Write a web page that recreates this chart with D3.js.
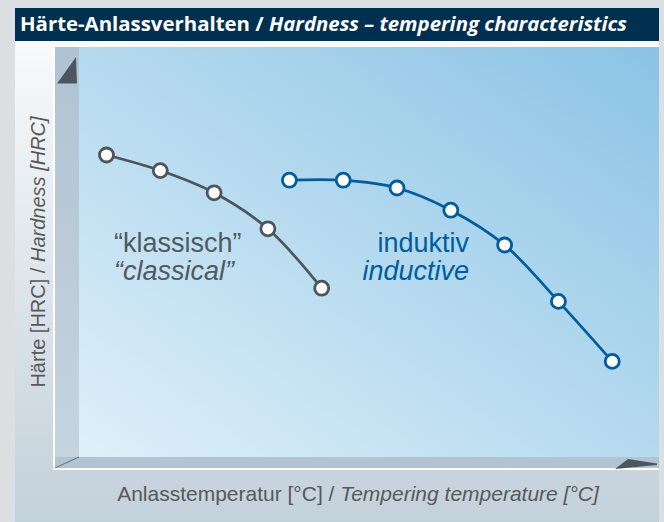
<!DOCTYPE html>
<html>
<head>
<meta charset="utf-8">
<script src="https://cdn.jsdelivr.net/npm/d3@7"></script>
<style>
  body { margin: 0; background: #dcdfe2; }
  svg { display: block; font-family: "Liberation Sans", Arial, sans-serif; }
</style>
</head>
<body>
<svg id="chart"></svg>
<script>
// Data (hardness in HRC, temperature in °C, no ticks shown)
const classicTemps = [100, 200, 300, 400, 500];
const classicHrc = [65, 62.4, 58.7, 52.7, 42.8];
const inductiveTemps = [440, 540, 640, 740, 840, 940, 1040];
const inductiveHrc = [60.8, 60.8, 59.5, 55.8, 50, 40.6, 30.6];

const width = 664;
const height = 522;

const svg = d3.select("#chart").attr("width", width).attr("height", height);

// Gradients
const defs = svg.append("defs");
const panelGrad = defs.append("linearGradient")
  .attr("id", "panelGrad").attr("x1", 0).attr("y1", 0).attr("x2", 0).attr("y2", 1);
panelGrad.append("stop").attr("offset", "0%").attr("stop-color", "#f8fafb");
panelGrad.append("stop").attr("offset", "100%").attr("stop-color", "#c3d1db");

const wallGrad = defs.append("linearGradient")
  .attr("id", "wallGrad").attr("x1", 0).attr("y1", 1).attr("x2", 1).attr("y2", 0);
wallGrad.append("stop").attr("offset", "0%").attr("stop-color", "#dff0f9");
wallGrad.append("stop").attr("offset", "100%").attr("stop-color", "#8bc3e5");

const sideGrad = defs.append("linearGradient")
  .attr("id", "sideGrad").attr("x1", 0).attr("y1", 0).attr("x2", 0).attr("y2", 1);
sideGrad.append("stop").attr("offset", "0%").attr("stop-color", "#b0c3d2");
sideGrad.append("stop").attr("offset", "100%").attr("stop-color", "#c6d4de");

// Outer panel + title bar
svg.append("rect").attr("x", 0).attr("y", 0).attr("width", width).attr("height", height)
  .attr("fill", "#dcdfe2");
svg.append("rect").attr("x", 15).attr("y", 41).attr("width", 644).attr("height", height - 41)
  .attr("fill", "url(#panelGrad)");
svg.append("rect").attr("x", 15).attr("y", 8).attr("width", 644).attr("height", 33)
  .attr("fill", "#00304f");

const title = svg.append("text")
  .attr("x", 20).attr("y", 31)
  .attr("fill", "#fff")
  .attr("font-family", "'Liberation Sans Narrow', 'Open Sans', sans-serif")
  .attr("font-weight", "bold")
  .attr("font-size", 20)
  .attr("textLength", 607)
  .attr("lengthAdjust", "spacingAndGlyphs");
title.append("tspan").text("Härte-Anlassverhalten / ");
title.append("tspan").attr("font-style", "italic").text("Hardness – tempering characteristics");

// 3D box
const box = { left: 54, right: 659, top: 47, bottom: 469, wall: 79, floor: 457 };

svg.append("rect")
  .attr("x", box.wall).attr("y", box.top)
  .attr("width", box.right - box.wall).attr("height", box.floor - box.top)
  .attr("fill", "url(#wallGrad)");
svg.append("rect")
  .attr("x", box.left).attr("y", box.top)
  .attr("width", box.wall - box.left).attr("height", box.bottom - box.top)
  .attr("fill", "url(#sideGrad)");
svg.append("rect")
  .attr("x", box.left).attr("y", box.floor)
  .attr("width", box.right - box.left).attr("height", box.bottom - box.floor)
  .attr("fill", "#b2c4d2");
svg.append("line")
  .attr("x1", box.left + 1).attr("y1", box.bottom - 1)
  .attr("x2", box.wall).attr("y2", box.floor)
  .attr("stroke", "#4b5661").attr("stroke-width", 0.8);
svg.append("path")
  .attr("d", `M${box.left},${box.top}V${box.bottom}H${box.right}`)
  .attr("fill", "none").attr("stroke", "#fff").attr("stroke-width", 2);

// Axis arrows
svg.append("path")
  .attr("d", "M76,57L57,83.5L77,83.5Z")
  .attr("fill", "#4b5661");
svg.append("path")
  .attr("d", "M628,459L657,463.5L657,465L615,469Z")
  .attr("fill", "#4b5661");

// Axis titles
const yTitle = svg.append("text")
  .attr("transform", "translate(45,252) rotate(-90)")
  .attr("text-anchor", "middle")
  .attr("font-size", 20)
  .attr("fill", "#58595b");
yTitle.append("tspan").text("Härte [HRC] / ");
yTitle.append("tspan").attr("font-style", "italic").text("Hardness [HRC]");

const xTitle = svg.append("text")
  .attr("x", 358).attr("y", 501)
  .attr("text-anchor", "middle")
  .attr("font-size", 21)
  .attr("fill", "#58595b");
xTitle.append("tspan").text("Anlasstemperatur [°C] / ");
xTitle.append("tspan").attr("font-style", "italic").text("Tempering temperature [°C]");

// Scales
const xScale = d3.scaleLinear().domain([0, 1000]).range([52.7, 590.7]);
const yScale = d3.scaleLinear().domain([20, 70]).range([425, 125]);

const series = [
  { name: "classic", temps: classicTemps, hrc: classicHrc, color: "#4d555c" },
  { name: "inductive", temps: inductiveTemps, hrc: inductiveHrc, color: "#005d9d" }
];

const line = d3.line()
  .x(d => xScale(d.t))
  .y(d => yScale(d.h))
  .curve(d3.curveCatmullRom.alpha(0.5));

series.forEach(s => {
  const pts = s.temps.map((t, i) => ({ t, h: s.hrc[i] }));
  const g = svg.append("g").attr("class", s.name);
  g.append("path")
    .datum(pts)
    .attr("d", line)
    .attr("fill", "none")
    .attr("stroke", s.color)
    .attr("stroke-width", 2.7);
  g.selectAll("circle")
    .data(pts)
    .join("circle")
    .attr("cx", d => xScale(d.t))
    .attr("cy", d => yScale(d.h))
    .attr("r", 7)
    .attr("fill", "#fff")
    .attr("stroke", s.color)
    .attr("stroke-width", 2.8);
});

// Series labels
const classicLabel = svg.append("text").attr("font-size", 27).attr("fill", "#505a62");
classicLabel.append("tspan").attr("x", 114).attr("y", 252).text("“klassisch”");
classicLabel.append("tspan").attr("x", 114).attr("y", 280).attr("font-style", "italic").text("“classical”");

const inductiveLabel = svg.append("text").attr("font-size", 27).attr("fill", "#005d9d")
  .attr("text-anchor", "end");
inductiveLabel.append("tspan").attr("x", 469).attr("y", 252).text("induktiv");
inductiveLabel.append("tspan").attr("x", 469).attr("y", 280).attr("font-style", "italic").text("inductive");
</script>
</body>
</html>
